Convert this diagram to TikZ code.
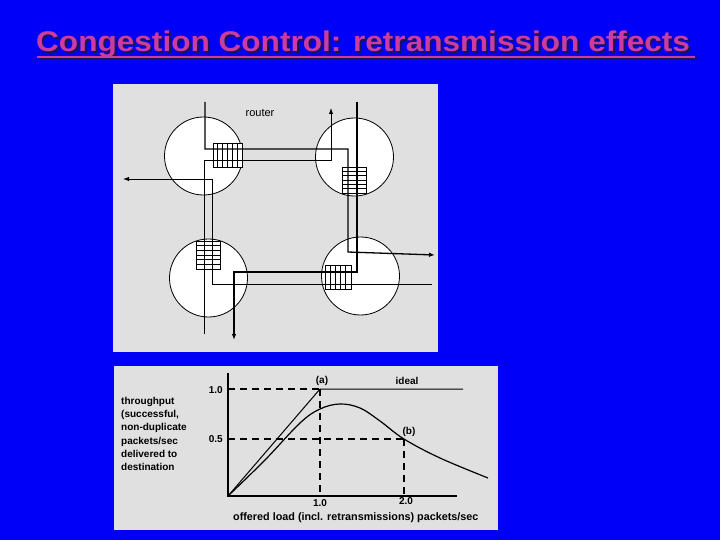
\documentclass[tikz,border=0pt]{standalone}
\usepackage{fontspec}
\setmainfont{Liberation Sans}
\newfontfamily\titlefont[FakeStretch=1.108]{Liberation Sans Bold}
\usetikzlibrary{arrows.meta}
\definecolor{bgblue}{RGB}{0,0,250}
\definecolor{panelgray}{RGB}{224,224,224}
\definecolor{titlepink}{RGB}{204,60,160}
\definecolor{shadowc}{RGB}{25,20,90}
\tikzset{
  routerc/.style={circle, draw=black, fill=white, line width=0.8pt, minimum size=78pt, inner sep=0pt},
  buf/.style={draw=black, line width=0.7pt},
  thinpath/.style={draw=black, line width=0.9pt},
  thickpath/.style={draw=black, line width=1.3pt},
  tip/.style={-{Latex[length=6pt,width=4.5pt]}},
  axisl/.style={draw=black, line width=1.4pt},
  dashl/.style={draw=black, line width=1.3pt, dash pattern=on 7pt off 5pt},
  lbl/.style={font=\fontsize{10}{12}\selectfont\bfseries, inner sep=0pt},
  titletext/.style={anchor=base west, inner sep=0pt, font=\titlefont\fontsize{28.5}{30}\selectfont}
}
\begin{document}
\begin{tikzpicture}[x=1pt,y=-1pt]
\useasboundingbox (0,0) rectangle (720,540);
\fill[bgblue] (0,0) rectangle (720,540);

% title
\node[titletext, text=shadowc] at (38,53.5) {Congestion Control: retransmission effects};
\draw[shadowc, line width=2pt] (39,59.5) -- (697,59.5);
\node[titletext, text=titlepink] (title) at (36,52) {Congestion Control: retransmission effects};
\draw[titlepink, line width=2pt] (37,57.5) -- (695,57.5);

% panels
\fill[panelgray] (113.3,84.3) rectangle (438,352);
\fill[panelgray] (114,366) rectangle (498,530);

% routers
\node[routerc] (tl) at (203.5,156) {};
\node[routerc] (tr) at (354.5,157) {};
\node[routerc] (bl) at (208.5,278) {};
\node[routerc] (br) at (360.5,276) {};
\node[font=\fontsize{11}{13}\selectfont, inner sep=0pt] (rlabel) at (260,113) {router};

% buffers (background fill)
\fill[white] (213,143) rectangle (242,167);
\fill[white] (342.7,167) rectangle (366.5,193);
\fill[white] (196,241) rectangle (220,269);
\fill[white] (325,265) rectangle (351,289);

% paths
\coordinate (p1a) at (432,284);
\coordinate (p1e) at (123,179);
\draw[thinpath, tip] (p1a) -- (212,284) -- (212,179) -- (p1e);
\coordinate (p2a) at (204,334);
\coordinate (p2e) at (331,108);
\draw[thinpath, tip] (p2a) -- (204,160) -- (331,160) -- (p2e);
\coordinate (p3a) at (205,102);
\coordinate (p3e) at (435,255);
\draw[thickpath, tip] (p3a) -- (205,149) -- (348,149) -- (348,252) -- (p3e);
\coordinate (p4a) at (357,102);
\coordinate (p4e) at (234,340);
\draw[thickpath, tip] (p4a) -- (357,272) -- (234,272) -- (p4e);

% buffer grids
\draw[buf] (213,143) rectangle (242,167);
\foreach \x in {217.8,222.7,227.5,232.3,237.2} \draw[buf] (\x,143) -- (\x,167);
\draw[buf] (342.7,167) rectangle (366.5,193);
\foreach \y in {171.3,175.7,180,184.3,188.7} \draw[buf] (342.7,\y) -- (366.5,\y);
\draw[buf] (196,241) rectangle (220,269);
\foreach \y in {245.7,250.3,255,259.7,264.3} \draw[buf] (196,\y) -- (220,\y);
\draw[buf] (325,265) rectangle (351,289);
\foreach \x in {330.2,335.4,340.6,345.8} \draw[buf] (\x,265) -- (\x,289);

% graph
\coordinate (o) at (228,496);
\coordinate (ytop) at (228,373);
\coordinate (xend) at (457,496);
\coordinate (a) at (320,389);
\coordinate (iend) at (463,389);
\coordinate (b) at (404,439);
\coordinate (y1) at (228,389);
\coordinate (y5) at (228,439);
\coordinate (x1) at (320,496);
\coordinate (x2) at (404,496);
\draw[dashl] (y1) -- (a);
\draw[dashl] (y5) -- (b);
\draw[dashl] (a) -- (x1);
\draw[dashl] (b) -- (x2);
\draw[axisl] (ytop) -- (o) -- (xend);
\draw[black, line width=1pt] (o) -- (a) -- (iend);
\draw[black, line width=1.2pt] plot[smooth, tension=0.6] coordinates {(228,496) (265,460) (300,423) (320,409) (340,404) (360,408) (380,421) (404,439) (440,458) (488,478)};

\node[lbl, anchor=east] (l10) at (223,390) {1.0};
\node[lbl, anchor=east] (l05) at (223,439) {0.5};
\node[lbl] (la) at (322,381) {(a)};
\node[lbl] (lideal) at (407,381) {ideal};
\node[lbl] (lb) at (409,432) {(b)};
\node[lbl] (lx1) at (320,503) {1.0};
\node[lbl] (lx2) at (406,501) {2.0};
\node[lbl, anchor=west, font=\fontsize{10.8}{12}\selectfont\bfseries] (lx) at (233,518) {offered load (incl. retransmissions) packets/sec};
\node[lbl, anchor=west, align=left, font=\fontsize{10}{13.2}\selectfont\bfseries] (ly) at (121,434) {throughput\\(successful,\\non-duplicate\\packets/sec\\delivered to\\destination};
\end{tikzpicture}
\end{document}
